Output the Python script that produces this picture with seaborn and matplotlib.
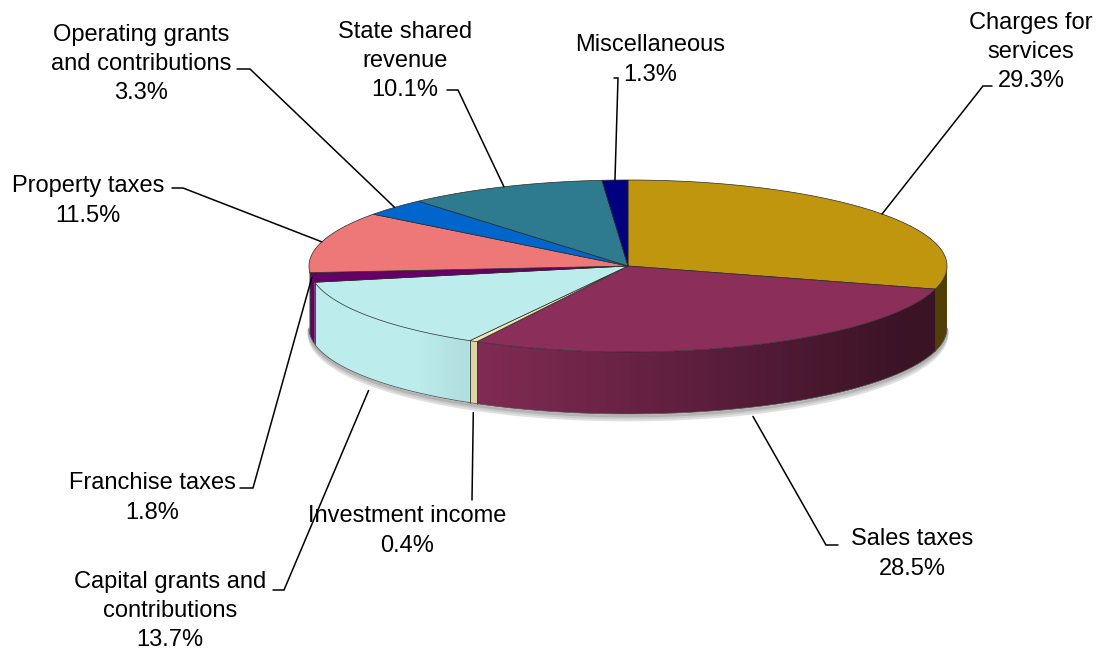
import numpy as np
import matplotlib
matplotlib.use("Agg")
import matplotlib.pyplot as plt
import matplotlib.colors as mcolors
from matplotlib.patches import Polygon
import seaborn as sns

# ---- data ----
categories = ["Charges for\nservices", "Sales taxes", "Investment income",
              "Capital grants and\ncontributions", "Franchise taxes", "Property taxes",
              "Operating grants\nand contributions", "State shared\nrevenue", "Miscellaneous"]
shares = [29.3, 28.5, 0.4, 13.7, 1.8, 11.5, 3.3, 10.1, 1.3]
colors = ["#C0960F", "#8B2E5A", "#EEE6B0", "#BCECEC", "#660066",
          "#EE7777", "#0066CC", "#2E7A8E", "#000080"]

sns.set_theme(style="white")
plt.rcParams['font.family'] = ['Liberation Sans', 'DejaVu Sans']

fig = plt.figure(figsize=(11.02, 6.5), dpi=100)
ax = fig.add_axes([0, 0, 1, 1])

# ---- layout of the 3D pie ----
CX, CY, RX, RY, DEPTH = 628, 266, 319, 86, 62


def pt(theta_deg, dy=0.0):
    t = np.radians(theta_deg)
    return CX + RX * np.sin(t), CY - RY * np.cos(t) + dy


vals = np.array(shares, dtype=float)
bounds = np.concatenate([[0], np.cumsum(vals) / vals.sum() * 360])


def shade(x):
    return np.clip(0.93 - (x - 475) * 0.00118, 0.42, 1.0)


# soft shadow under the pie
ts = np.linspace(90, 270, 200)
for k, g in enumerate([0.88, 0.8, 0.7]):
    sp = [pt(t, DEPTH + 6 - 2 * k) for t in ts]
    ax.plot([p[0] for p in sp], [p[1] for p in sp], color=str(g), lw=2.0, zorder=1)

# side walls (front half only), gradient-filled
for i in range(len(vals)):
    lo = max(bounds[i], 90)
    hi = min(bounds[i + 1], 270)
    if hi <= lo:
        continue
    tt = np.linspace(lo, hi, max(3, int((hi - lo) * 2) + 3))
    top = [pt(t) for t in tt]
    bot = [pt(t, DEPTH) for t in tt[::-1]]
    wall = Polygon(top + bot, closed=True, facecolor="none", edgecolor="none", zorder=2)
    ax.add_patch(wall)
    xs = [p[0] for p in top]
    x0, x1 = min(xs) - 1, max(xs) + 1
    y0 = min(p[1] for p in top) - 1
    y1 = max(p[1] for p in bot) + 1
    gx = np.linspace(x0, x1, 200)
    base = np.array(mcolors.to_rgb(colors[i]))
    row = np.clip(base[None, :] * shade(gx)[:, None], 0, 1)
    img = np.repeat(row[None, :, :], 2, axis=0)
    im = ax.imshow(img, extent=(x0, x1, y1, y0), aspect="auto", zorder=2,
                   interpolation="bilinear")
    im.set_clip_path(wall)
    for tb in (lo, hi):
        if 90 < tb < 270:
            xb, yb = pt(tb)
            ax.plot([xb, xb], [yb, yb + DEPTH], color="#3a3a3a", lw=0.5, zorder=3)

# bottom edge of wall
bx = [pt(t, DEPTH)[0] for t in ts]
by = [pt(t, DEPTH)[1] for t in ts]
ax.plot(bx, by, color="#555555", lw=0.6, zorder=3)

# top faces
for i in range(len(vals)):
    tt = np.linspace(bounds[i], bounds[i + 1], max(3, int((bounds[i + 1] - bounds[i]) * 2) + 3))
    poly = [(CX, CY)] + [pt(t) for t in tt]
    ax.add_patch(Polygon(poly, closed=True, facecolor=colors[i], edgecolor="#2a2a2a",
                         lw=0.5, zorder=4, joinstyle="round"))

# ---- labels with leader lines ----
# text block centre, tick start, tick corner, depth fraction for anchor on the pie
label_layout = [
    ((1031, 52), (992, 86), (983, 86), 0.0),
    ((912, 554), (838, 545), (826, 545), 1.15),
    ((407, 531), (472, 500), (472, 500), 1.15),
    ((170, 611), (273, 590), (284, 590), 1.2),
    ((152, 498), (240, 488), (253, 488), 0.0),
    ((88, 201), (172, 188), (183, 188), 0.0),
    ((141, 64), (237, 69), (250, 69), 0.0),
    ((405, 61), (447, 90), (458, 90), 0.0),
    ((650, 60), (614, 78), (618, 78), 0.0),
]

for i, (cat, s) in enumerate(zip(categories, shares)):
    (tx, ty), (ex, ey), (kx, ky), dfrac = label_layout[i]
    ax.text(tx, ty, f"{cat}\n{s:.1f}%", ha="center", va="center", fontsize=17,
            linespacing=1.42, color="black", zorder=6)
    mid = (bounds[i] + bounds[i + 1]) / 2
    front = 90 < mid < 270
    ax_, ay_ = pt(mid, DEPTH * dfrac if front else 0.0)
    ax.plot([ex, kx, ax_], [ey, ky, ay_], color="black", lw=1.1, zorder=5,
            solid_joinstyle="miter")

ax.set_xlim(0, 1102)
ax.set_ylim(650, 0)
ax.axis('off')

fig.savefig("out.png", dpi=100, facecolor="white")
